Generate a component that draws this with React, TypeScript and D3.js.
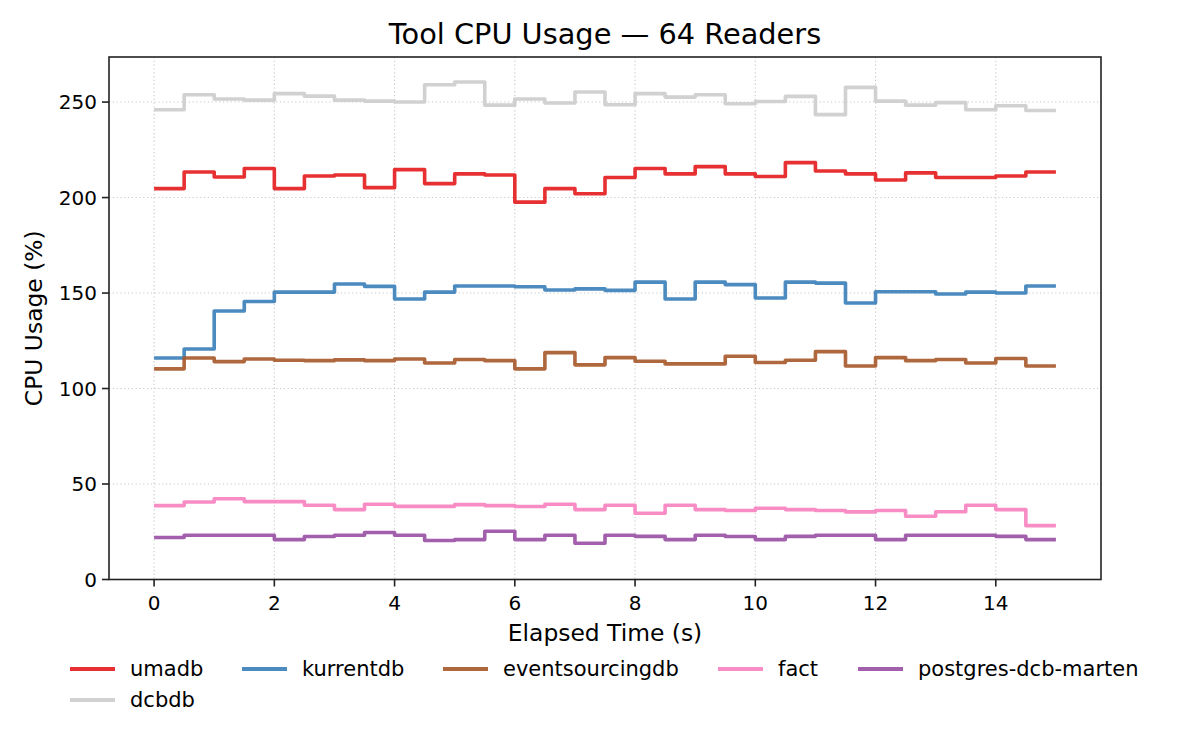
import * as d3 from "d3";

// sample start times (s), each sample lasts 0.5 s
const TIME = [
  0, 0.5, 1, 1.5, 2, 2.5, 3, 3.5, 4, 4.5, 5, 5.5, 6, 6.5, 7, 7.5, 8, 8.5, 9, 9.5,
  10, 10.5, 11, 11.5, 12, 12.5, 13, 13.5, 14, 14.5,
];
const END_TIME = 15;

const umadb = [
  204.7, 213.4, 210.8, 215.2, 204.7, 211.3, 211.8, 205.2, 214.6, 207.3, 212.4, 211.8, 197.6, 204.7, 202.0,
  210.5, 215.2, 212.4, 216.2, 212.4, 211.0, 218.3, 213.9, 212.4, 209.2, 212.9, 210.5, 210.5, 211.3, 213.4,
];
const kurrentdb = [
  116.0, 120.7, 140.6, 145.6, 150.5, 150.5, 154.7, 153.5, 146.9, 150.5, 153.7, 153.7, 153.3, 151.6, 152.2,
  151.4, 155.7, 146.9, 155.7, 154.4, 147.4, 155.7, 155.2, 144.8, 150.7, 150.7, 149.5, 150.5, 150.0, 153.7,
];
const eventsourcingdb = [
  110.3, 116.0, 114.1, 115.5, 114.8, 114.6, 115.0, 114.6, 115.5, 113.4, 115.2, 114.6, 110.3, 118.8, 112.4,
  116.2, 114.3, 112.9, 112.9, 116.9, 113.6, 114.8, 119.3, 111.8, 116.2, 114.6, 115.2, 113.4, 115.7, 111.8,
];
const fact = [
  38.7, 40.6, 42.3, 40.8, 40.8, 38.9, 36.6, 39.4, 38.3, 38.3, 39.2, 38.7, 38.2, 39.4, 36.6,
  38.9, 34.7, 38.9, 36.6, 36.1, 37.3, 36.6, 36.1, 35.4, 36.1, 33.1, 35.5, 38.9, 36.6, 28.2,
];
const postgresDcbMarten = [
  22.0, 23.2, 23.2, 23.2, 20.9, 22.5, 23.2, 24.6, 23.2, 20.4, 20.9, 25.3, 20.9, 23.2, 19.0,
  23.2, 22.6, 20.9, 23.2, 22.5, 20.9, 22.6, 23.2, 23.2, 20.9, 23.2, 23.2, 23.2, 22.6, 20.9,
];
const dcbdb = [
  246.0, 253.8, 251.6, 251.0, 254.4, 253.1, 251.0, 250.5, 250.0, 259.1, 260.5, 248.4, 251.6, 249.5, 255.3,
  248.6, 254.4, 252.6, 253.8, 249.1, 250.3, 253.0, 243.4, 257.7, 250.5, 248.4, 249.7, 246.0, 248.1, 245.6,
];

const SERIES = [
  { name: "umadb", color: "#e41a1c", values: umadb },
  { name: "kurrentdb", color: "#377eb8", values: kurrentdb },
  { name: "eventsourcingdb", color: "#a65628", values: eventsourcingdb },
  { name: "fact", color: "#f781bf", values: fact },
  { name: "postgres-dcb-marten", color: "#984ea3", values: postgresDcbMarten },
  { name: "dcbdb", color: "#cccccc", values: dcbdb },
];

const X_TICKS = [0, 2, 4, 6, 8, 10, 12, 14];
const Y_TICKS = [0, 50, 100, 150, 200, 250];

const W = 1200;
const H = 750;
const plot = { left: 109, right: 1101, top: 57, bottom: 579.5 };
const FONT = "DejaVu Sans, sans-serif";

// legend layout (column x, row y)
const legendCols = [70, 242, 443, 718, 858];
const legendRows = [669, 700];

export default function App() {
  const x = d3.scaleLinear().domain([-0.75, 15.75]).range([plot.left, plot.right]);
  const y = d3.scaleLinear().domain([0, 273.6]).range([plot.bottom, plot.top]);

  const line = d3
    .line<[number, number]>()
    .x((d) => x(d[0]))
    .y((d) => y(d[1]))
    .curve(d3.curveStepAfter);

  const pathFor = (values: number[]) => {
    const pts: [number, number][] = TIME.map((t, i) => [t, values[i]]);
    pts.push([END_TIME, values[values.length - 1]]);
    return line(pts) || "";
  };

  return (
    <svg
      width={W}
      height={H}
      style={{ position: "absolute", left: 0, top: 0, background: "#fff" }}
      fontFamily={FONT}
    >
      <rect width={W} height={H} fill="#fff" />

      {/* grid */}
      <g stroke="#c8c8c8" strokeWidth={1.1} strokeDasharray="1.2,2.6">
        {X_TICKS.map((t) => (
          <line key={"gx" + t} x1={x(t)} x2={x(t)} y1={plot.top} y2={plot.bottom} />
        ))}
        {Y_TICKS.map((t) => (
          <line key={"gy" + t} x1={plot.left} x2={plot.right} y1={y(t)} y2={y(t)} />
        ))}
      </g>

      {/* series */}
      <g fill="none" strokeWidth={3.6} strokeOpacity={0.9} strokeLinejoin="round">
        {SERIES.map((s) => (
          <path key={s.name} d={pathFor(s.values)} stroke={s.color} />
        ))}
      </g>

      {/* frame */}
      <rect
        x={plot.left}
        y={plot.top}
        width={plot.right - plot.left}
        height={plot.bottom - plot.top}
        fill="none"
        stroke="#222"
        strokeWidth={1.6}
      />

      {/* x axis */}
      <g>
        {X_TICKS.map((t) => (
          <g key={"xt" + t} transform={`translate(${x(t)},${plot.bottom})`}>
            <line y1={0} y2={7} stroke="#222" strokeWidth={1.6} />
            <text y={30} textAnchor="middle" fontSize={20} fill="#000">
              {t}
            </text>
          </g>
        ))}
        <text x={(plot.left + plot.right) / 2} y={641} textAnchor="middle" fontSize={23.4} fill="#000">
          Elapsed Time (s)
        </text>
      </g>

      {/* y axis */}
      <g>
        {Y_TICKS.map((t) => (
          <g key={"yt" + t} transform={`translate(${plot.left},${y(t)})`}>
            <line x1={0} x2={-7} stroke="#222" strokeWidth={1.6} />
            <text x={-12} dy="0.35em" textAnchor="end" fontSize={20} fill="#000">
              {t}
            </text>
          </g>
        ))}
        <text
          transform={`translate(42,${(plot.top + plot.bottom) / 2}) rotate(-90)`}
          textAnchor="middle"
          fontSize={23.4}
          fill="#000"
        >
          CPU Usage (%)
        </text>
      </g>

      {/* title */}
      <text x={(plot.left + plot.right) / 2} y={44} textAnchor="middle" fontSize={28.8} fill="#000">
        Tool CPU Usage — 64 Readers
      </text>

      {/* legend */}
      <g>
        {SERIES.map((s, i) => {
          const col = i % 5;
          const row = Math.floor(i / 5);
          const lx = legendCols[col];
          const ly = legendRows[row];
          return (
            <g key={"lg" + s.name} transform={`translate(${lx},${ly})`}>
              <line x1={0} x2={45} stroke={s.color} strokeOpacity={0.9} strokeWidth={3.8} />
              <text x={60} dy="0.35em" fontSize={21} fill="#000">
                {s.name}
              </text>
            </g>
          );
        })}
      </g>
    </svg>
  );
}
